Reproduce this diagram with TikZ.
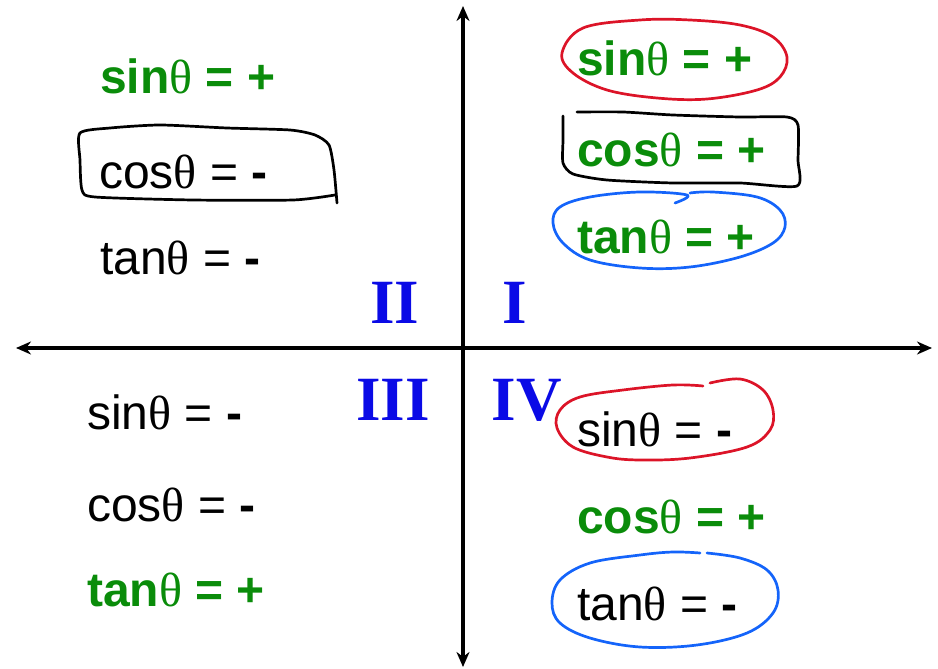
\documentclass[tikz,border=0pt]{standalone}
\usepackage{fontspec}
\setmainfont{Liberation Sans}
\newfontfamily\symfont{Liberation Serif}
\usetikzlibrary{arrows.meta}
\definecolor{signgreen}{RGB}{10,140,10}
\definecolor{quadblue}{RGB}{10,10,230}
\definecolor{penred}{RGB}{220,20,40}
\definecolor{penblue}{RGB}{20,100,250}
\newcommand{\thet}{{\mdseries\symfont θ}}
\newcommand{\mns}{\textbf{-}}
\tikzset{
  sign/.style={anchor=base west, inner sep=0pt, font=\fontsize{48}{48}\selectfont},
  plus/.style={sign, text=signgreen, font=\fontsize{48}{48}\selectfont\bfseries},
  quad/.style={anchor=base, inner sep=0pt, text=quadblue, font=\fontsize{63}{63}\selectfont\symfont\bfseries},
  axis/.style={line width=3.5pt, -{Stealth[length=15pt,width=13pt]}},
  pen/.style={line width=2.7pt, line join=round, line cap=round}
}
\begin{document}
\begin{tikzpicture}[x=1pt,y=-1pt]
\useasboundingbox (0,0) rectangle (938,669);
% axes
\coordinate (o) at (463,348);
\coordinate (left) at (16,348);
\coordinate (right) at (932,348);
\coordinate (top) at (463,6);
\coordinate (bottom) at (463,667);
\draw[axis] (o) -- (right);
\draw[axis] (o) -- (left);
\draw[axis] (o) -- (top);
\draw[axis] (o) -- (bottom);

% quadrant numbers
\node[quad] (qI) at (515,323) {I};
\node[quad] (qII) at (395,323) {II};
\node[quad] (qIII) at (393,420) {III};
\node[quad] (qIV) at (527,420) {IV};

% quadrant II
\node[plus] (sinII) at (100,94) {sin\thet{} = +};
\node[sign] (cosII) at (99,188) {cos\thet{} = \mns};
\node[sign] (tanII) at (100,274) {tan\thet{} = \mns};
% quadrant I
\node[plus] (sinI) at (577,76) {sin\thet{} = +};
\node[plus] (cosI) at (577,166) {cos\thet{} = +};
\node[plus] (tanI) at (577,253) {tan\thet{} = +};
% quadrant III
\node[sign] (sinIII) at (87,429) {sin\thet{} = \mns};
\node[sign] (cosIII) at (87,521) {cos\thet{} = \mns};
\node[plus] (tanIII) at (87,606) {tan\thet{} = +};
% quadrant IV
\node[sign] (sinIV) at (577,446) {sin\thet{} = \mns};
\node[plus] (cosIV) at (577,533) {cos\thet{} = +};
\node[sign] (tanIV) at (577,620) {tan\thet{} = \mns};

% hand drawn marks
\draw[pen, penred] plot[smooth cycle, tension=0.6] coordinates {(562,53) (583,28) (640,20) (690,20) (740,25) (773,37) (787,57) (780,77) (757,90) (707,99) (657,98) (607,90) (573,73)};
\draw[pen] plot[smooth, tension=0.4] coordinates {(577,112) (623,112) (673,115) (740,117) (787,117) (798,125) (798,160) (797,186) (740,183) (673,183) (607,180) (573,174) (563,163) (563,140) (563,116)};
\draw[pen, penblue] plot[smooth, tension=0.6] coordinates {(675,203) (687,195) (640,192) (590,197) (560,207) (553,223) (563,243) (590,260) (640,268) (690,267) (740,257) (773,243) (785,227) (780,210) (757,197) (713,192) (690,193)};
\draw[pen] plot[smooth, tension=0.4] coordinates {(337,203) (334,170) (329,145) (315,135) (290,130) (227,128) (160,125) (110,128) (80,133) (80,160) (82,190) (95,197) (193,200) (293,200) (335,195)};
\draw[pen, penred] plot[smooth, tension=0.6] coordinates {(710,383) (740,379) (763,390) (773,410) (770,430) (747,447) (690,458) (640,460) (607,457) (573,447) (557,428) (560,410) (580,397) (623,390) (673,385) (703,386)};
\draw[pen, penblue] plot[smooth, tension=0.6] coordinates {(707,553) (740,558) (767,570) (778,590) (773,613) (747,633) (697,645) (640,647) (590,638) (560,623) (552,603) (560,580) (590,563) (640,555) (673,552) (700,553)};
\end{tikzpicture}
\end{document}
